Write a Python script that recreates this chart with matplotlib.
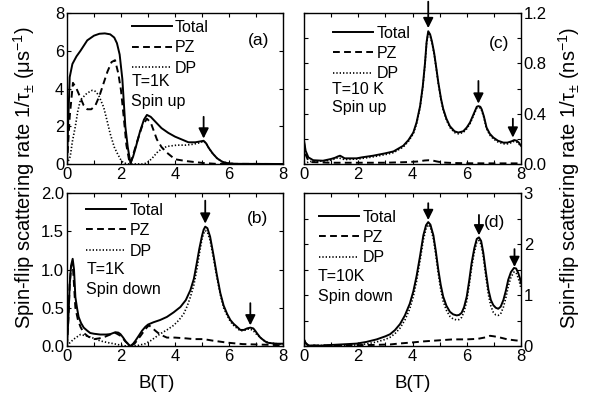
import matplotlib
matplotlib.use("Agg")
import matplotlib.pyplot as plt
from matplotlib.ticker import MultipleLocator, FormatStrFormatter

plt.rcParams['font.family'] = ['Liberation Sans', 'DejaVu Sans']
plt.rcParams['mathtext.fontset'] = 'custom'
plt.rcParams['mathtext.rm'] = 'Liberation Sans'
plt.rcParams['mathtext.it'] = 'Liberation Sans'

# ---------------- Panel (a): T=1K spin up ----------------
B_a_tot = [0, 0.04, 0.1, 0.2, 0.35, 0.5, 0.75, 1.0, 1.2, 1.4, 1.6, 1.75, 1.85, 1.95, 2.05, 2.16, 2.25, 2.35,
           2.45, 2.55, 2.7, 2.85, 2.96, 3.1, 3.3, 3.5, 3.75, 4.0, 4.25, 4.5, 4.75, 4.95, 5.06, 5.15, 5.25,
           5.4, 5.56, 5.75, 5.93, 6.2, 8]
a_tot = [0, 2.0, 4.6, 5.3, 5.7, 6.0, 6.55, 6.8, 6.9, 6.92, 6.87, 6.7, 6.4, 5.8, 4.5, 2.0, 0.9, 0.05,
         0.4, 0.9, 1.7, 2.35, 2.6, 2.5, 2.2, 1.9, 1.65, 1.45, 1.3, 1.15, 1.15, 1.2, 1.23, 1.1, 0.85,
         0.55, 0.3, 0.12, 0.05, 0.01, 0]
B_a_pz = [0, 0.1, 0.22, 0.35, 0.5, 0.62, 0.75, 0.9, 1.05, 1.2, 1.36, 1.5, 1.65, 1.78, 1.9, 2.0, 2.1, 2.2,
          2.3, 2.35, 2.45, 2.6, 2.78, 2.96, 3.1, 3.33, 3.5, 3.7, 4.0, 4.44, 5.06, 5.5, 8]
a_pz = [0, 2.5, 4.3, 4.0, 3.5, 3.1, 2.9, 2.9, 3.1, 3.6, 4.3, 4.9, 5.4, 5.5, 4.8, 3.9, 2.5, 1.0,
        0.2, 0, 0.5, 1.2, 2.0, 2.4, 2.2, 1.3, 0.9, 0.6, 0.25, 0.15, 0.05, 0.01, 0]
B_a_dp = [0, 0.12, 0.2, 0.31, 0.4, 0.5, 0.74, 0.93, 1.05, 1.17, 1.36, 1.5, 1.6, 1.75, 1.85, 2.0, 2.1, 2.3,
          2.8, 2.96, 3.15, 3.33, 3.5, 3.7, 4.07, 4.4, 4.69, 4.9, 5.06, 5.15, 5.25, 5.4, 5.56, 5.75, 5.93,
          6.2, 8]
a_dp = [0, 0.4, 1.2, 2.0, 2.8, 3.4, 3.75, 3.9, 3.85, 3.65, 3.0, 2.2, 1.6, 0.9, 0.6, 0.2, 0.05, 0,
        0, 0.05, 0.3, 0.6, 0.8, 0.93, 1.0, 1.0, 1.05, 1.12, 1.2, 1.1, 0.85, 0.55, 0.3, 0.12, 0.05,
        0.01, 0]

# ---------------- Panel (b): T=1K spin down ----------------
B_b_tot = [0, 0.05, 0.1, 0.15, 0.21, 0.26, 0.31, 0.37, 0.43, 0.52, 0.62, 0.75, 0.86, 1.0, 1.23, 1.45,
           1.6, 1.79, 1.9, 1.98, 2.08, 2.16, 2.25, 2.35, 2.45, 2.53, 2.65, 2.78, 2.9, 3.0, 3.2, 3.45,
           3.7, 3.95, 4.2, 4.4, 4.57, 4.7, 4.81, 4.9, 5.0, 5.06, 5.12, 5.2, 5.3, 5.43, 5.55, 5.68, 5.8,
           5.93, 6.05, 6.17, 6.3, 6.42, 6.55, 6.67, 6.79, 6.9, 6.97, 7.05, 7.16, 7.3, 7.41, 7.6, 7.78, 8]
b_tot = [0, 0.35, 0.8, 1.05, 1.14, 1.0, 0.64, 0.5, 0.38, 0.3, 0.24, 0.2, 0.17, 0.16, 0.15, 0.15,
         0.155, 0.18, 0.175, 0.155, 0.11, 0.067, 0.03, 0.0, 0.03, 0.067, 0.13, 0.2, 0.25, 0.28, 0.31, 0.34,
         0.38, 0.44, 0.51, 0.6, 0.73, 0.88, 1.09, 1.27, 1.44, 1.52, 1.56, 1.54, 1.43, 1.18, 0.93, 0.69, 0.53,
         0.42, 0.34, 0.29, 0.25, 0.21, 0.21, 0.23, 0.24, 0.23, 0.2, 0.16, 0.11, 0.07, 0.044, 0.035, 0.03, 0.03]
B_b_pz = [0, 0.05, 0.1, 0.15, 0.21, 0.26, 0.31, 0.4, 0.5, 0.62, 0.8, 1.0, 1.2, 1.4, 1.6, 1.73, 1.85,
          2.0, 2.16, 2.35, 2.5, 2.72, 2.9, 3.03, 3.15, 3.27, 3.45, 3.7, 4.0, 4.4, 4.7, 5.06, 5.4, 5.93,
          6.5, 7.0, 8]
b_pz = [0, 0.35, 0.8, 1.03, 1.08, 0.8, 0.5, 0.35, 0.25, 0.17, 0.12, 0.09, 0.1, 0.12, 0.15, 0.18, 0.16,
        0.13, 0.06, 0, 0.03, 0.13, 0.22, 0.27, 0.24, 0.2, 0.15, 0.11, 0.11, 0.1, 0.09, 0.09, 0.07, 0.044,
        0.025, 0.02, 0.01]
B_b_dp = [0, 0.1, 0.25, 0.5, 0.74, 1.0, 1.23, 1.5, 1.73, 2.0, 2.2, 2.6, 2.9, 3.1, 3.46, 3.7, 3.95,
          4.15, 4.32, 4.45, 4.57, 4.7, 4.81, 4.9, 5.0, 5.06, 5.12, 5.2, 5.3, 5.43, 5.55, 5.68, 5.8, 5.93,
          6.05, 6.17, 6.3, 6.42, 6.55, 6.67, 6.79, 6.9, 7.0, 7.16, 7.3, 7.5, 8]
b_dp = [0, 0.04, 0.09, 0.15, 0.13, 0.1, 0.067, 0.045, 0.03, 0.01, 0, 0.005, 0.03, 0.07, 0.16, 0.21, 0.27,
        0.34, 0.42, 0.52, 0.64, 0.8, 1.0, 1.2, 1.4, 1.47, 1.51, 1.49, 1.38, 1.14, 0.9, 0.67, 0.5, 0.4,
        0.32, 0.27, 0.23, 0.2, 0.2, 0.22, 0.22, 0.2, 0.16, 0.11, 0.07, 0.04, 0.02]

# ---------------- Panel (c): T=10K spin up ----------------
B_c_tot = [0, 0.06, 0.16, 0.34, 0.7, 1.0, 1.15, 1.25, 1.33, 1.42, 1.5, 1.75, 1.94, 2.14, 2.55, 3.0, 3.3,
           3.66, 3.85, 4.03, 4.15, 4.28, 4.38, 4.46, 4.52, 4.58, 4.65, 4.72, 4.8, 4.88, 4.95, 5.05, 5.13,
           5.25, 5.38, 5.55, 5.69, 5.87, 6.0, 6.12, 6.22, 6.3, 6.37, 6.43, 6.5, 6.55, 6.63, 6.73, 6.85,
           6.98, 7.15, 7.35, 7.5, 7.65, 7.75, 7.84, 7.92, 8]
c_tot = [0.185, 0.105, 0.053, 0.03, 0.026, 0.04, 0.05, 0.06, 0.066, 0.055, 0.045, 0.045, 0.045, 0.053,
         0.066, 0.085, 0.1, 0.145, 0.19, 0.25, 0.33, 0.46, 0.62, 0.8, 0.97, 1.055, 1.03, 0.97, 0.88, 0.76,
         0.65, 0.52, 0.44, 0.36, 0.30, 0.26, 0.25, 0.26, 0.29, 0.33, 0.38, 0.42, 0.455, 0.46, 0.455, 0.435,
         0.38, 0.29, 0.24, 0.21, 0.185, 0.17, 0.17, 0.18, 0.19, 0.185, 0.17, 0.145]
B_c_pz = [0, 0.05, 0.15, 0.3, 1.0, 2.0, 3.0, 3.8, 4.2, 4.45, 4.6, 4.75, 4.9, 5.1, 5.5, 6.0, 7.0, 8]
c_pz = [0.17, 0.08, 0.03, 0.015, 0.01, 0.01, 0.01, 0.015, 0.02, 0.028, 0.03, 0.027, 0.02, 0.012, 0.008,
        0.006, 0.005, 0.005]
B_c_dp = [0, 0.2, 0.5, 1.0, 1.25, 1.5, 2.0, 2.5, 3.0, 3.3, 3.66, 3.85, 4.03, 4.15, 4.28, 4.38, 4.46,
          4.52, 4.58, 4.65, 4.72, 4.8, 4.88, 4.95, 5.05, 5.13, 5.25, 5.38, 5.55, 5.69, 5.87, 6.0, 6.12,
          6.22, 6.3, 6.37, 6.43, 6.5, 6.55, 6.63, 6.73, 6.85, 6.98, 7.15, 7.35, 7.5, 7.65, 7.75, 7.84,
          7.92, 8]
c_dp = [0.0, 0.02, 0.02, 0.03, 0.05, 0.035, 0.04, 0.055, 0.075, 0.09, 0.135, 0.18, 0.24, 0.32, 0.45,
        0.61, 0.79, 0.96, 1.045, 1.02, 0.96, 0.87, 0.75, 0.64, 0.51, 0.43, 0.35, 0.29, 0.25, 0.24, 0.25,
        0.28, 0.32, 0.37, 0.41, 0.445, 0.45, 0.445, 0.425, 0.37, 0.28, 0.23, 0.2, 0.175, 0.16, 0.16, 0.17,
        0.18, 0.175, 0.16, 0.14]

# ---------------- Panel (d): T=10K spin down ----------------
B_d_tot = [0, 0.05, 0.1, 0.2, 0.4, 1.0, 1.94, 2.3, 2.68, 3.0, 3.17, 3.35, 3.54, 3.72, 3.9, 4.03, 4.15,
           4.28, 4.4, 4.5, 4.58, 4.66, 4.77, 4.86, 4.95, 5.04, 5.13, 5.25, 5.38, 5.5, 5.63, 5.72, 5.81,
           5.9, 6.0, 6.09, 6.18, 6.28, 6.37, 6.45, 6.53, 6.61, 6.7, 6.8, 6.89, 6.98, 7.07, 7.16, 7.25,
           7.35, 7.44, 7.53, 7.63, 7.74, 7.82, 7.9, 7.96, 8]
d_tot = [0.13, 0.07, 0.03, 0.01, 0.0, 0.02, 0.047, 0.08, 0.13, 0.19, 0.23, 0.31, 0.43, 0.6, 0.83, 1.07,
         1.37, 1.77, 2.17, 2.37, 2.43, 2.38, 2.17, 1.86, 1.5, 1.2, 0.97, 0.79, 0.67, 0.62, 0.6, 0.61, 0.65,
         0.76, 0.97, 1.28, 1.63, 1.92, 2.1, 2.13, 2.06, 1.83, 1.47, 1.1, 0.9, 0.8, 0.75, 0.73, 0.77,
         0.9, 1.08, 1.3, 1.45, 1.53, 1.52, 1.43, 1.33, 1.23]
B_d_dp = B_d_tot
d_dp = [0.0, 0.0, 0.005, 0.01, 0.01, 0.01, 0.02, 0.04, 0.08, 0.13, 0.17, 0.24, 0.35, 0.51, 0.73, 0.97,
        1.27, 1.68, 2.08, 2.3, 2.38, 2.33, 2.1, 1.78, 1.42, 1.11, 0.88, 0.7, 0.58, 0.53, 0.51, 0.52, 0.56,
        0.67, 0.88, 1.19, 1.54, 1.84, 2.03, 2.07, 1.99, 1.75, 1.38, 1.0, 0.78, 0.66, 0.61, 0.6, 0.63,
        0.76, 0.94, 1.17, 1.35, 1.45, 1.44, 1.33, 1.22, 1.12]
B_d_pz = [0, 0.05, 0.15, 0.5, 1.5, 2.5, 3.17, 3.54, 4.0, 4.4, 4.95, 5.5, 6.0, 6.4, 6.7, 6.86, 7.0, 7.2,
          7.5, 7.8, 8]
d_pz = [0.12, 0.06, 0.02, 0.01, 0.015, 0.02, 0.03, 0.05, 0.07, 0.09, 0.11, 0.13, 0.13, 0.14, 0.17, 0.2,
        0.19, 0.17, 0.13, 0.11, 0.1]

# Arrows marking resonances: (B, y_start, y_tip)
arrows_a = [(5.06, 2.5, 1.35)]
arrows_b = [(5.12, 1.9, 1.6), (6.79, 0.56, 0.27)]
arrows_c = [(4.58, 1.29, 1.08), (6.43, 0.66, 0.48), (7.7, 0.36, 0.21)]
arrows_d = [(4.58, 2.8, 2.47), (6.45, 2.57, 2.17), (7.76, 1.9, 1.55)]

legend_labels = ["Total", "PZ", "DP"]

fig = plt.figure(figsize=(5.95, 4.01), dpi=100)
W, H = 595.0, 401.0

def pos(x0, x1, ytop, ybot):
    return [x0 / W, 1 - ybot / H, (x1 - x0) / W, (ybot - ytop) / H]

ax_a = fig.add_axes(pos(67, 283, 13, 164))
ax_b = fig.add_axes(pos(67, 283, 193, 346))
ax_c = fig.add_axes(pos(304, 521, 13, 164))
ax_d = fig.add_axes(pos(304, 521, 193, 346))

LW = 1.4
DASH = (0, (3.5, 2.2))
DOT = (0, (0.8, 1.2))
FS = 11.5
TICKFS = 12

panels = [
    (ax_a, (B_a_tot, a_tot), (B_a_pz, a_pz), (B_a_dp, a_dp), arrows_a, (0, 8), 2, None, False),
    (ax_b, (B_b_tot, b_tot), (B_b_pz, b_pz), (B_b_dp, b_dp), arrows_b, (0, 2.0), 0.5, None, False),
    (ax_c, (B_c_tot, c_tot), (B_c_pz, c_pz), (B_c_dp, c_dp), arrows_c, (0, 1.2), 0.4, 0.2, True),
    (ax_d, (B_d_tot, d_tot), (B_d_pz, d_pz), (B_d_dp, d_dp), arrows_d, (0, 3), 1, 0.5, True),
]

for ax, tot, pz, dp, arrows, ylim, ymaj, ymin, right in panels:
    ax.plot(*tot, color='black', lw=LW, ls='-', label=legend_labels[0])
    ax.plot(*pz, color='black', lw=LW, ls=DASH, label=legend_labels[1])
    ax.plot(*dp, color='black', lw=1.2, ls=DOT, label=legend_labels[2])
    for bx, y0, y1 in arrows:
        ax.annotate('', xy=(bx, y1), xytext=(bx, y0), annotation_clip=False,
                    arrowprops=dict(arrowstyle='-|>,head_length=0.6,head_width=0.3',
                                    color='black', lw=1.3, shrinkA=0, shrinkB=0))
    ax.set_xlim(0, 8)
    ax.set_ylim(*ylim)
    ax.xaxis.set_major_locator(MultipleLocator(2))
    ax.xaxis.set_minor_locator(MultipleLocator(1))
    ax.yaxis.set_major_locator(MultipleLocator(ymaj))
    if ymin:
        ax.yaxis.set_minor_locator(MultipleLocator(ymin))
    ax.tick_params(which='both', direction='in', top=True, right=True, labelsize=TICKFS,
                   length=3, width=0.8, pad=2)
    for s in ax.spines.values():
        s.set_linewidth(1.0)
    if right:
        ax.tick_params(labelleft=False, labelright=True)

ax_b.yaxis.set_major_formatter(FormatStrFormatter('%.1f'))
ax_c.yaxis.set_major_formatter(FormatStrFormatter('%.1f'))

leg_kw = dict(frameon=False, fontsize=FS, handlelength=2.5, handletextpad=0.2,
              labelspacing=0.34, borderpad=0, borderaxespad=0, loc='upper left')
ax_a.legend(bbox_to_anchor=(0.30, 0.955), **leg_kw)
ax_b.legend(bbox_to_anchor=(0.09, 0.937), **leg_kw)
ax_c.legend(bbox_to_anchor=(0.135, 0.917), **leg_kw)
ax_d.legend(bbox_to_anchor=(0.07, 0.892), **leg_kw)

ax_a.text(0.298, 0.545, "T=1K", fontsize=FS, transform=ax_a.transAxes, va='center')
ax_a.text(0.298, 0.413, "Spin up", fontsize=FS, transform=ax_a.transAxes, va='center')
ax_a.text(0.887, 0.82, "(a)", fontsize=12.5, transform=ax_a.transAxes, va='center', ha='center')

ax_b.text(0.09, 0.5, "T=1K", fontsize=FS, transform=ax_b.transAxes, va='center')
ax_b.text(0.09, 0.367, "Spin down", fontsize=FS, transform=ax_b.transAxes, va='center')
ax_b.text(0.88, 0.833, "(b)", fontsize=12.5, transform=ax_b.transAxes, va='center', ha='center')

ax_c.text(0.13, 0.495, "T=10 K", fontsize=FS, transform=ax_c.transAxes, va='center')
ax_c.text(0.13, 0.374, "Spin up", fontsize=FS, transform=ax_c.transAxes, va='center')
ax_c.text(0.90, 0.80, "(c)", fontsize=12.5, transform=ax_c.transAxes, va='center', ha='center')

ax_d.text(0.065, 0.456, "T=10K", fontsize=FS, transform=ax_d.transAxes, va='center')
ax_d.text(0.065, 0.322, "Spin down", fontsize=FS, transform=ax_d.transAxes, va='center')
ax_d.text(0.88, 0.81, "(d)", fontsize=12.5, transform=ax_d.transAxes, va='center', ha='center')

fig.text(157 / W, 1 - 384 / H, "B(T)", fontsize=13.5, ha='center', va='center')
fig.text(413 / W, 1 - 384 / H, "B(T)", fontsize=13.5, ha='center', va='center')

fig.text(24 / W, 1 - 178 / H, "Spin-flip scattering rate 1/τ$_{\\pm}$ (μs$^{-1}$)",
         fontsize=14.5, rotation=90, ha='center', va='center')
fig.text(569 / W, 1 - 178 / H, "Spin-flip scattering rate 1/τ$_{\\pm}$ (ns$^{-1}$)",
         fontsize=14.5, rotation=90, ha='center', va='center')

fig.savefig("out.png", dpi=100)
